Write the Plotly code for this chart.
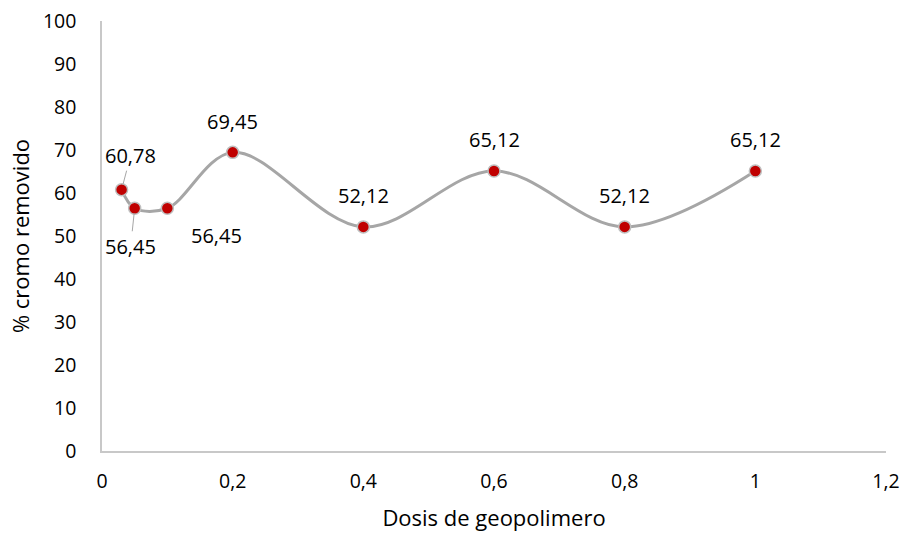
import plotly.graph_objects as go

dosis = [0.03, 0.05, 0.1, 0.2, 0.4, 0.6, 0.8, 1.0]
cromo = [60.78, 56.45, 56.45, 69.45, 52.12, 65.12, 52.12, 65.12]
x_ticks = [0, 0.2, 0.4, 0.6, 0.8, 1.0, 1.2]
x_tick_text = ["0", "0,2", "0,4", "0,6", "0,8", "1", "1,2"]
y_ticks = list(range(0, 101, 10))

FONT = "Open Sans"
FS = 19.5
FS_LAB = 20
FS_TITLE = 22
fig = go.Figure()
fig.add_trace(go.Scatter(
    x=dosis, y=cromo, mode="lines+markers",
    line=dict(color="#A6A6A6", width=3, shape="spline", smoothing=1),
    marker=dict(color="#C00000", size=12, line=dict(color="#BFBFBF", width=1.5)),
    showlegend=False, cliponaxis=False,
))

def lab(v):
    return f"{v:.2f}".replace(".", ",")

anns = []
offsets = [
    dict(showarrow=True, ax=9, ay=-34),
    dict(showarrow=True, ax=-4, ay=38),
    dict(showarrow=False, xshift=49, yshift=-27),
    dict(showarrow=False, yshift=31),
    dict(showarrow=False, yshift=31),
    dict(showarrow=False, yshift=31),
    dict(showarrow=False, yshift=31),
    dict(showarrow=False, yshift=31),
]
for xv, yv, o in zip(dosis, cromo, offsets):
    a = dict(x=xv, y=yv, text=lab(yv), font=dict(family=FONT, size=FS_LAB, color="#000000"))
    if o["showarrow"]:
        a.update(showarrow=True, ax=o["ax"], ay=o["ay"], arrowhead=0, arrowwidth=1,
                 arrowcolor="#A6A6A6", standoff=5, startstandoff=0)
    else:
        a.update(showarrow=False, xshift=o.get("xshift", 0), yshift=o.get("yshift", 0))
    anns.append(a)

fig.update_layout(
    width=902, height=534,
    margin=dict(l=102, r=16, t=21, b=83),
    paper_bgcolor="white", plot_bgcolor="white",
    font=dict(family=FONT, size=FS, color="#000000"),
    annotations=anns,
    xaxis=dict(range=[0, 1.2], tickvals=x_ticks, ticktext=x_tick_text,
               showgrid=False, zeroline=False, showline=True, linecolor="#C8C8C8",
               linewidth=1.5, ticks="outside", ticklen=12, tickcolor="rgba(0,0,0,0)",
               automargin=False,
               title=dict(text="Dosis de geopolimero", standoff=17,
                          font=dict(family=FONT, size=FS_TITLE))),
    yaxis=dict(range=[0, 100], tickvals=y_ticks, showgrid=False, zeroline=False,
               showline=True, linecolor="#C8C8C8", linewidth=1.5,
               ticks="outside", ticklen=20, tickcolor="rgba(0,0,0,0)",
               automargin=False,
               title=dict(text="% cromo removido", standoff=7,
                          font=dict(family=FONT, size=FS_TITLE))),
)
fig.write_html("out.html")
